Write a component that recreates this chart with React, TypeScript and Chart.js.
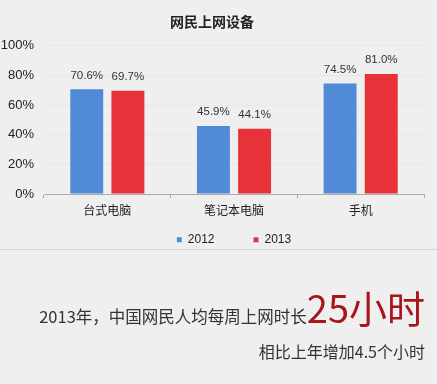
import React, { useEffect, useRef } from "react";
import { Chart, registerables } from "chart.js";

Chart.register(...registerables);

const categories = ["台式电脑", "笔记本电脑", "手机"];
const values2012 = [70.6, 45.9, 74.5];
const values2013 = [69.7, 44.1, 81.0];
const seriesLabels = ["2012", "2013"];
const yTicks = [0, 20, 40, 60, 80, 100];

const LEGEND_PAD = 39;
const LEGEND_FONT = 12;

const labelPlugin = {
  id: "barLabels",
  afterDatasetsDraw(chart: any) {
    const ctx = chart.ctx;
    ctx.save();
    ctx.font = "11.5px 'Liberation Sans', Arial, sans-serif";
    ctx.fillStyle = "#333";
    ctx.textAlign = "center";
    ctx.textBaseline = "bottom";
    chart.data.datasets.forEach((ds: any, i: number) => {
      const meta = chart.getDatasetMeta(i);
      meta.data.forEach((bar: any, j: number) => {
        ctx.fillText(ds.data[j].toFixed(1) + "%", bar.x, bar.y - 8);
      });
    });
    ctx.restore();
  },
};

// place the legend row just under the category labels, centred on the plot area
const legendPlacePlugin = {
  id: "legendPlace",
  afterLayout(chart: any) {
    const lg = chart.legend;
    if (!lg) return;
    const h = lg.bottom - lg.top;
    lg.top = 241 - LEGEND_PAD - (LEGEND_FONT * 1.2) / 2;
    lg.bottom = lg.top + h;
    const w = lg.right - lg.left;
    const c = (chart.chartArea.left + chart.chartArea.right) / 2;
    lg.left = c - w / 2;
    lg.right = c + w / 2;
  },
};

export default function App() {
  const ref = useRef<HTMLCanvasElement>(null);
  useEffect(() => {
    const chart = new Chart(ref.current!, {
      type: "bar",
      data: {
        labels: categories,
        datasets: [
          { label: seriesLabels[0], data: values2012, backgroundColor: "#518ad6" },
          { label: seriesLabels[1], data: values2013, backgroundColor: "#e8323a" },
        ],
      },
      options: {
        responsive: false,
        animation: false,
        layout: { padding: { left: 0, right: 13, top: 9, bottom: 0 } },
        datasets: {
          bar: { categoryPercentage: 0.65, barPercentage: 0.8 },
        },
        plugins: {
          title: {
            display: true,
            text: "网民上网设备",
            color: "#222",
            font: { size: 14, weight: "bold", family: "'Noto Sans CJK SC', sans-serif" },
            padding: { top: 4, bottom: 16 },
          },
          legend: {
            position: "bottom",
            labels: {
              boxWidth: 5,
              boxHeight: 5,
              color: "#222",
              padding: LEGEND_PAD,
              font: { size: LEGEND_FONT, family: "'Liberation Sans', Arial, sans-serif" },
            },
          },
          tooltip: { enabled: false },
        },
        scales: {
          y: {
            min: 0,
            max: 100,
            afterBuildTicks: (axis: any) => {
              axis.ticks = yTicks.map((v) => ({ value: v }));
            },
            afterFit: (axis: any) => {
              axis.width = 44;
            },
            ticks: {
              callback: (v: any) => v + "%",
              color: "#222",
              padding: 10,
              font: { size: 13, family: "'Liberation Sans', Arial, sans-serif" },
            },
            border: { display: false },
            grid: { color: "#e7e7e7", drawTicks: false, lineWidth: 1 },
          },
          x: {
            afterFit: (axis: any) => {
              axis.height = 25;
            },
            ticks: {
              color: "#222",
              padding: 5,
              font: { size: 12, family: "'Noto Sans CJK SC', sans-serif" },
            },
            border: { color: "#aaa" },
            grid: { offset: true, drawOnChartArea: false, tickLength: 4, color: "#aaa" },
          },
        },
      },
      plugins: [labelPlugin, legendPlacePlugin],
    });
    return () => chart.destroy();
  }, []);

  return (
    <div
      style={{
        position: "fixed",
        left: 0,
        top: 0,
        width: 437,
        height: 384,
        background: "#efefef",
        overflow: "hidden",
      }}
    >
      <canvas ref={ref} width={437} height={280} style={{ display: "block", position: "absolute", left: 0, top: 0 }} />
      <div style={{ position: "absolute", left: 0, top: 249, width: 437, height: 1, background: "#d2d2d2" }} />
      <div
        style={{
          position: "absolute",
          right: 12,
          top: 285,
          whiteSpace: "nowrap",
          fontFamily: "'Noto Sans CJK SC', sans-serif",
          color: "#333",
          fontSize: 16.5,
          lineHeight: "44px",
        }}
      >
        2013年，中国网民人均每周上网时长
        <span style={{ color: "#a8151b", fontSize: 38, verticalAlign: "baseline" }}>25小时</span>
      </div>
      <div
        style={{
          position: "absolute",
          right: 12,
          top: 340,
          whiteSpace: "nowrap",
          fontFamily: "'Noto Sans CJK SC', sans-serif",
          color: "#333",
          fontSize: 16,
          lineHeight: "22px",
        }}
      >
        相比上年增加4.5个小时
      </div>
    </div>
  );
}
